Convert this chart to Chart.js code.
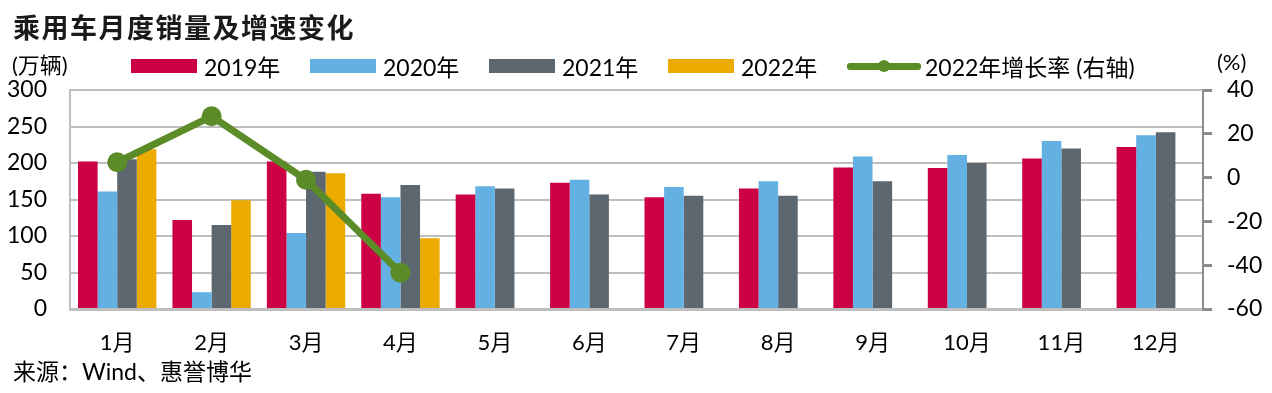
<!DOCTYPE html>
<html>
<head>
<meta charset="utf-8">
<script src="https://cdn.jsdelivr.net/npm/chart.js@4.4.0/dist/chart.umd.min.js"></script>
<style>
  html, body { margin: 0; padding: 0; background: #fff; }
  #wrap { position: relative; width: 1272px; height: 393px; overflow: hidden;
          font-family: Lato, "Noto Sans CJK SC", sans-serif; color: #000; }
  #myChart { position: absolute; left: 0; top: 0; }
  .txt { position: absolute; white-space: nowrap; line-height: 1; }
  #title { left: 13px; top: 13px; font-size: 27px; font-weight: bold; letter-spacing: 1.5px;
           font-family: "Noto Sans CJK SC", sans-serif; color: #1a1a1a; }
  #unitL { left: 12px; top: 54px; font-size: 22px; }
  #unitR { left: 1217px; top: 51px; font-size: 22px; }
  #source { left: 13px; top: 360px; font-size: 23px; }
  #legend { position: absolute; left: 131px; top: 54px; display: flex; align-items: center; height: 24px; }
  .item { display: flex; align-items: center; font-size: 23px; }
  .box { width: 66px; height: 14px; margin-right: 7px; }
  .ln { position: relative; width: 74px; height: 7px; border-radius: 3px; margin-right: 4px; }
  .ln span { position: absolute; left: 31px; top: -2.5px; width: 12px; height: 12px; border-radius: 6px; }
</style>
</head>
<body>
<div id="wrap">
  <canvas id="myChart" width="1272" height="393"></canvas>
  <div class="txt" id="title">乘用车月度销量及增速变化</div>
  <div class="txt" id="unitL">(万辆)</div>
  <div class="txt" id="unitR">(%)</div>
  <div id="legend"></div>
  <div class="txt" id="source">来源：Wind、惠誉博华</div>
</div>
<script>
// months
var labels = ['1月', '2月', '3月', '4月', '5月', '6月', '7月', '8月', '9月', '10月', '11月', '12月'];
// 万辆
var sales2019 = [202, 122, 202, 158, 157, 173, 153, 165, 194, 193, 206, 222];
var sales2020 = [161, 23, 104, 153, 168, 177, 167, 175, 209, 211, 230, 238];
var sales2021 = [205, 115, 188, 170, 165, 157, 155, 155, 175, 200, 220, 242];
var sales2022 = [219, 149, 186, 97, null, null, null, null, null, null, null, null];
// %
var growth2022 = [7, 28, -1, -43.4, null, null, null, null, null, null, null, null];

var leftTicks = [0, 50, 100, 150, 200, 250, 300];
var rightTicks = [-60, -40, -20, 0, 20, 40];

var red = '#cc0044', blue = '#63b0e3', grey = '#5d6770', orange = '#ebab00', green = '#5b8c27';

Chart.defaults.font.family = 'Lato, "Noto Sans CJK SC", sans-serif';
Chart.defaults.color = '#000';

var ctx = document.getElementById('myChart').getContext('2d');
var chart = new Chart(ctx, {
    type: 'bar',
    data: {
        labels: labels,
        datasets: [{
            type: 'line',
            label: '2022年增长率 (右轴)',
            data: growth2022,
            yAxisID: 'y1',
            borderColor: green,
            backgroundColor: green,
            borderWidth: 7,
            pointRadius: 10,
            pointHoverRadius: 10,
            pointBorderWidth: 0,
            pointBackgroundColor: green,
            order: 0
        }, {
            label: '2019年',
            data: sales2019,
            backgroundColor: red,
            order: 1
        }, {
            label: '2020年',
            data: sales2020,
            backgroundColor: blue,
            order: 1
        }, {
            label: '2021年',
            data: sales2021,
            backgroundColor: grey,
            order: 1
        }, {
            label: '2022年',
            data: sales2022,
            backgroundColor: orange,
            order: 1
        }]
    },
    options: {
        responsive: false,
        animation: false,
        categoryPercentage: 0.83,
        barPercentage: 1.0,
        layout: { padding: { top: 90, left: 0, right: 0, bottom: 0 } },
        plugins: {
            legend: { display: false },
            tooltip: { enabled: false }
        },
        scales: {
            x: {
                grid: { drawOnChartArea: false, drawTicks: false },
                border: { color: '#bfbfbf', width: 3 },
                ticks: { font: { size: 22 }, padding: 21 },
                afterFit: function (s) { s.height = 84; }
            },
            y: {
                position: 'left',
                min: 0, max: 300,
                afterBuildTicks: function (s) { s.ticks = leftTicks.map(function (v) { return { value: v }; }); },
                grid: { color: '#bfbfbf', lineWidth: 2, drawTicks: false },
                border: { color: '#bfbfbf', width: 2 },
                ticks: { font: { size: 23 }, padding: 23 },
                afterFit: function (s) { s.width = 70; }
            },
            y1: {
                position: 'right',
                min: -60, max: 40,
                afterBuildTicks: function (s) { s.ticks = rightTicks.map(function (v) { return { value: v }; }); },
                grid: { drawOnChartArea: false, color: '#8c8c8c', lineWidth: 3, tickLength: 9 },
                border: { color: '#8c8c8c', width: 2 },
                ticks: { font: { size: 23 }, padding: 15 },
                afterFit: function (s) { s.width = 69; }
            }
        }
    }
});

// legend built from the datasets: bars first, line last
var legendEl = document.getElementById('legend');
var ds = chart.data.datasets.slice(1).concat([chart.data.datasets[0]]);
ds.forEach(function (d) {
    var item = document.createElement('div');
    item.className = 'item';
    if (d.type === 'line') {
        item.innerHTML = '<div class="ln" style="background:' + d.borderColor + '"><span style="background:' +
            d.borderColor + '"></span></div>' + d.label;
    } else {
        item.style.width = '179px';
        item.innerHTML = '<div class="box" style="background:' + d.backgroundColor + '"></div>' + d.label;
    }
    legendEl.appendChild(item);
});
</script>
</body>
</html>
